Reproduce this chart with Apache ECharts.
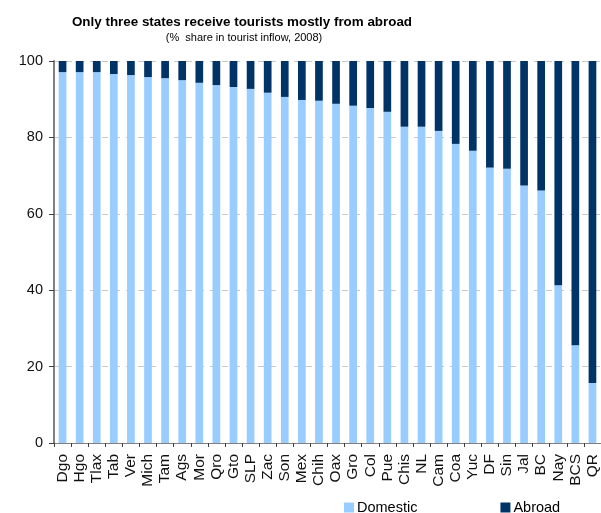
<!DOCTYPE html>
<html><head><meta charset="utf-8">
<script src="https://cdn.jsdelivr.net/npm/echarts@6/dist/echarts.min.js"></script>
<style>html,body{margin:0;padding:0;background:#fff}#c{width:601px;height:513px}</style>
</head><body><div id="c"></div>
<script>
const states = ["Dgo","Hgo","Tlax","Tab","Ver","Mich","Tam","Ags","Mor","Qro","Gto","SLP","Zac","Son","Mex","Chih","Oax","Gro","Col","Pue","Chis","NL","Cam","Coa","Yuc","DF","Sin","Jal","BC","Nay","BCS","QR"];
const domestic = [97.1,97.1,97.1,96.6,96.3,95.8,95.5,95.0,94.3,93.7,93.2,92.7,91.7,90.6,89.8,89.6,88.8,88.3,87.7,86.7,82.8,82.8,81.7,78.3,76.5,72.1,71.8,67.4,66.1,41.3,25.6,15.7];
const abroad = domestic.map(v => +(100 - v).toFixed(1));
const yTicks = [0,20,40,60,80,100];

const chart = echarts.init(document.getElementById('c'), null, {renderer:'canvas'});
const font = 'Liberation Sans, Arial, sans-serif';
chart.setOption({
  animation:false,
  title:[
    {text:'Only three states receive tourists mostly from abroad', left:237, textAlign:'center', top:11,
     textStyle:{fontFamily:font, fontSize:13.4, fontWeight:'bold', fontStyle:'normal', color:'#000'}},
    {text:'(%  share in tourist inflow, 2008)', left:239, textAlign:'center', top:27,
     textStyle:{fontFamily:font, fontSize:11, fontWeight:'normal', fontStyle:'normal', color:'#000'}}
  ],
  legend:{top:495, left:339, itemGap:83, itemWidth:10, itemHeight:10, icon:'rect',
    textStyle:{fontFamily:font, fontSize:14.5, color:'#000', padding:[0,0,0,-2]},
    data:['Domestic','Abroad']},
  grid:{left:54, right:-4, top:61, bottom:70, containLabel:false},
  xAxis:{type:'category', data:states,
    axisLine:{lineStyle:{color:'#808080', width:1}},
    axisTick:{show:true, length:4, lineStyle:{color:'#404040'}},
    axisLabel:{rotate:90, interval:0, fontFamily:font, fontSize:15.5, color:'#111', margin:11}},
  yAxis:{type:'value', min:0, max:100, interval:20,
    axisLine:{show:true, lineStyle:{color:'#808080', width:2}},
    axisTick:{show:true, length:5, lineStyle:{color:'#404040'}},
    axisLabel:{fontFamily:font, fontSize:14.5, color:'#111', margin:11,
      formatter: v => yTicks.includes(v) ? String(v) : ''},
    splitLine:{show:true, lineStyle:{color:'#c8c8c8', type:[6,6], width:1}}},
  series:[
    {name:'Domestic', type:'bar', stack:'s', data:domestic, barWidth:'45%', itemStyle:{color:'#99CCFF'}},
    {name:'Abroad', type:'bar', stack:'s', data:abroad, barWidth:'45%', itemStyle:{color:'#003366'}}
  ]
});
</script></body></html>
